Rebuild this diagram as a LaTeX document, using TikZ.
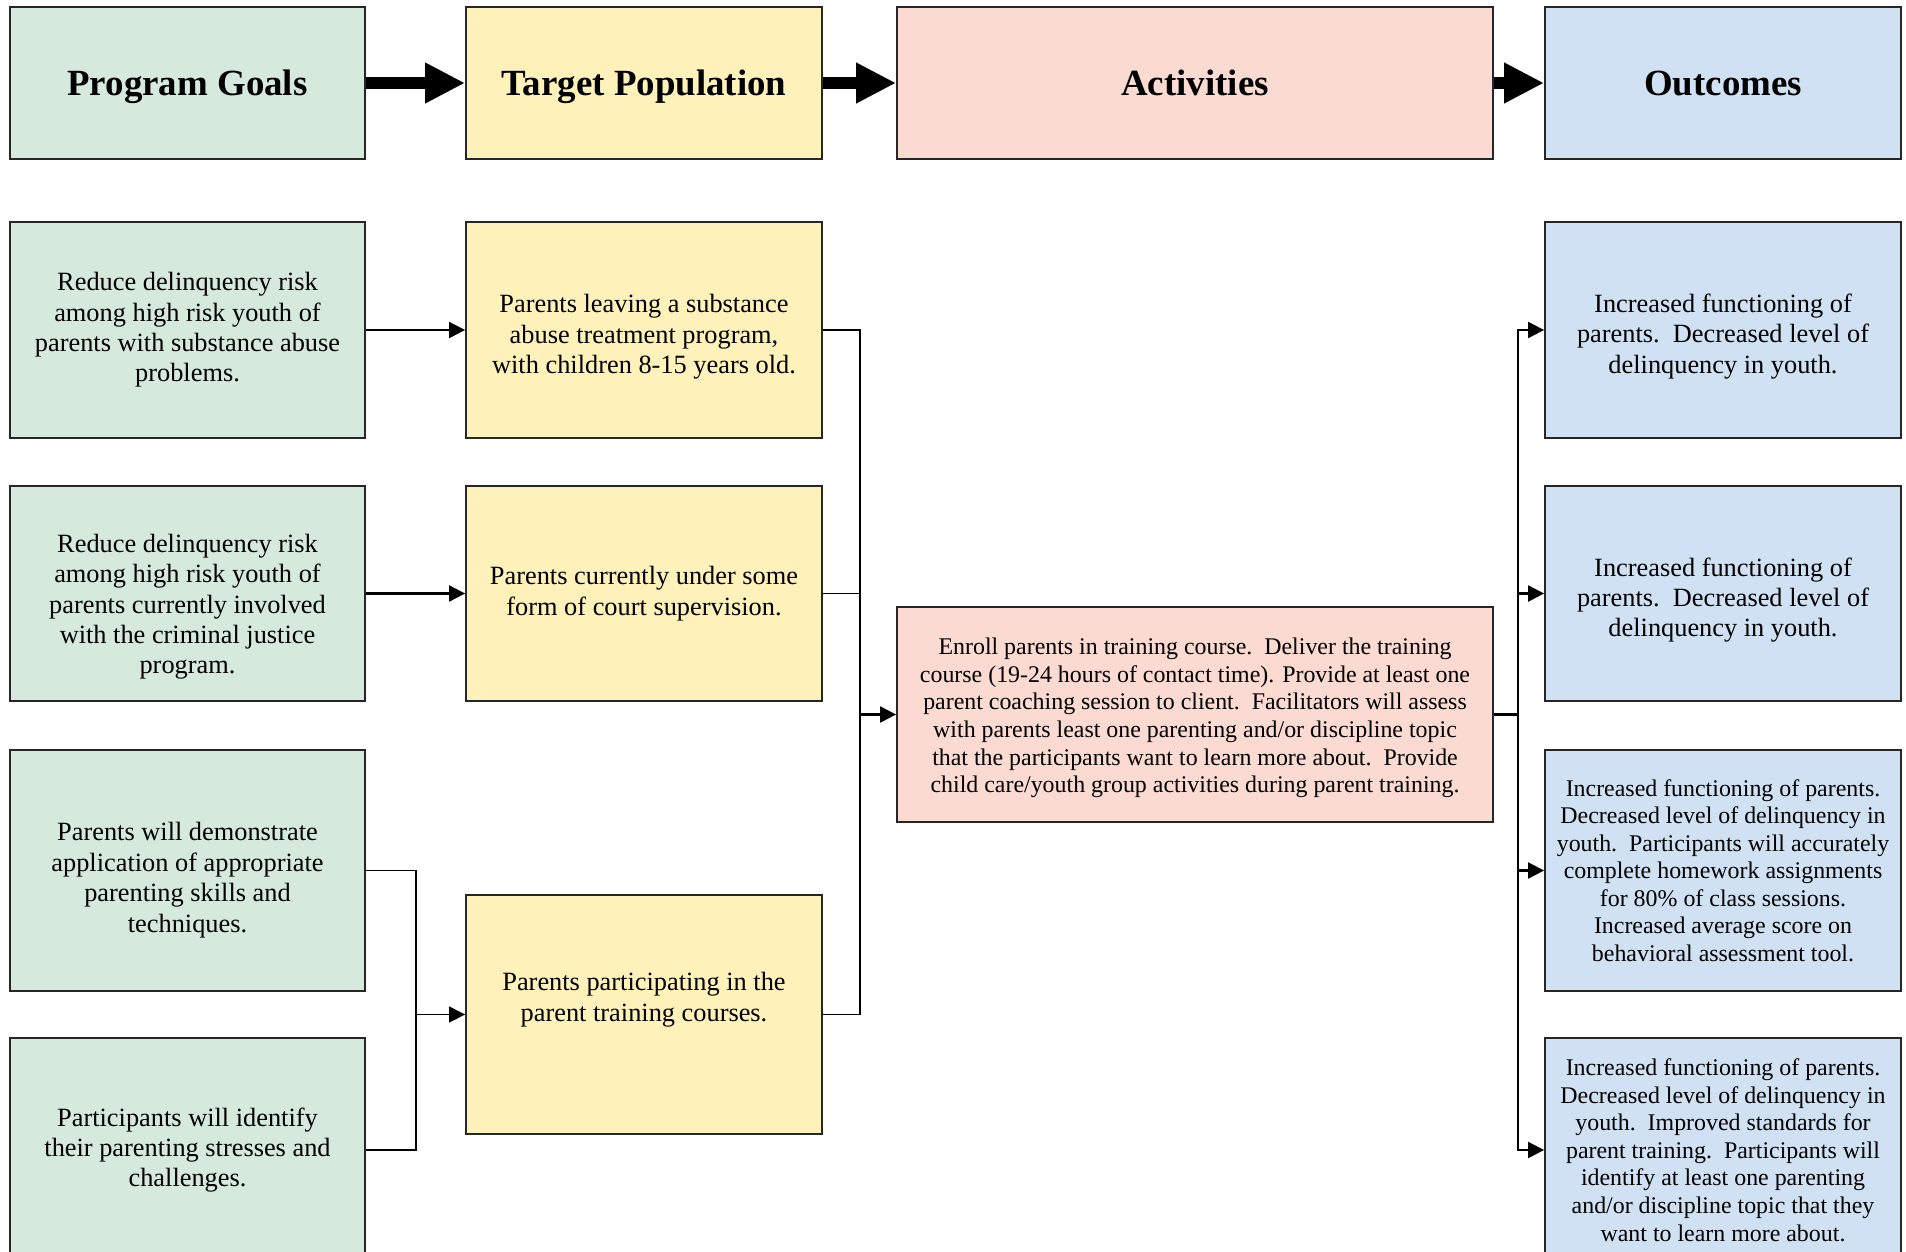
\documentclass[tikz,border=0pt]{standalone}
\usepackage{fontspec}
\setmainfont{Liberation Serif}
\usepackage{xcolor}
\usetikzlibrary{arrows.meta}

\definecolor{goalgreen}{HTML}{D5E9DD}
\definecolor{popyellow}{HTML}{FEF1BA}
\definecolor{actpink}{HTML}{FADAD1}
\definecolor{outblue}{HTML}{CFE1F2}

\begin{document}
\begin{tikzpicture}[
        x=0.02cm, y=-0.02cm,
        box/.style={draw=black!85, line width=1.1pt, align=center, inner sep=2pt, font=\fontsize{15}{17.3}\selectfont},
        smallbox/.style={box, font=\fontsize{13.6}{15.7}\selectfont},
        head/.style={box, minimum height=3.04cm, text depth=0pt, font=\fontsize{21}{25}\selectfont\bfseries},
        bigarrow/.style={line width=0.24cm, -{Triangle[length=0.8cm, width=0.76cm]}},
        conn/.style={line width=1.2pt},
        thinconn/.style={line width=0.8pt},
        arrow/.style={conn, -{Triangle[length=0.32cm, width=0.32cm]}},
        thinarrow/.style={thinconn, -{Triangle[length=0.32cm, width=0.32cm]}}
    ]
        \useasboundingbox (0,0) rectangle (1906,1251);

        % Header row
        \node[head, fill=goalgreen, minimum width=7.1cm] (hgoal) at (187.5,83) {Program Goals};
        \node[head, fill=popyellow, minimum width=7.12cm] (hpop) at (644,83) {Target Population};
        \node[head, fill=actpink, minimum width=11.92cm] (hact) at (1195,83) {Activities};
        \node[head, fill=outblue, minimum width=7.12cm] (hout) at (1723,83) {Outcomes};

        % Program goals
        \node[box, fill=goalgreen, minimum width=7.1cm, minimum height=4.32cm] (goal1) at (187.5,330) {Reduce delinquency risk\\among high risk youth of\\parents with substance abuse\\problems.};
        \node[box, fill=goalgreen, minimum width=7.1cm, minimum height=4.3cm] (goal2) at (187.5,593.5) {\rule{0pt}{25.5pt}Reduce delinquency risk\\among high risk youth of\\parents currently involved\\with the criminal justice\\program.};
        \node[box, fill=goalgreen, minimum width=7.1cm, minimum height=4.82cm] (goal3) at (187.5,870.5) {\rule{0pt}{21.3pt}Parents will demonstrate\\application of appropriate\\parenting skills and\\techniques.};
        \node[box, fill=goalgreen, minimum width=7.1cm, minimum height=4.48cm] (goal4) at (187.5,1150) {Participants will identify\\their parenting stresses and\\challenges.};

        % Target population
        \node[box, fill=popyellow, minimum width=7.12cm, minimum height=4.32cm] (pop1) at (644,330) {\rule{0pt}{18.3pt}Parents leaving a substance\\abuse treatment program,\\with children 8-15 years old.};
        \node[box, fill=popyellow, minimum width=7.12cm, minimum height=4.3cm] (pop2) at (644,593.5) {Parents currently under some\\form of court supervision.};
        \node[box, fill=popyellow, minimum width=7.12cm, minimum height=4.78cm] (pop3) at (644,1014.5) {Parents participating in the\\parent training courses.\rule[-19.9pt]{0pt}{19.9pt}};

        % Activities
        \node[smallbox, fill=actpink, minimum width=11.92cm, minimum height=4.3cm] (act) at (1195,714.5) {\rule{0pt}{13.4pt}Enroll parents in training course.\ \ Deliver the training\\course (19-24 hours of contact time). Provide at least one\\parent coaching session to client.\ \ Facilitators will assess\\with parents least one parenting and/or discipline topic\\that the participants want to learn more about.\ \ Provide\\child care/youth group activities during parent training.};

        % Outcomes
        \node[box, fill=outblue, minimum width=7.12cm, minimum height=4.32cm] (out1) at (1723,330) {\rule{0pt}{18pt}Increased functioning of\\parents.\ \ Decreased level of\\delinquency in youth.};
        \node[box, fill=outblue, minimum width=7.12cm, minimum height=4.3cm] (out2) at (1723,593.5) {\rule{0pt}{18pt}Increased functioning of\\parents.\ \ Decreased level of\\delinquency in youth.};
        \node[smallbox, fill=outblue, minimum width=7.12cm, minimum height=4.82cm] (out3) at (1723,870.5) {Increased functioning of parents.\\Decreased level of delinquency in\\youth.\ \ Participants will accurately\\complete homework assignments\\for 80\% of class sessions.\\Increased average score on\\behavioral assessment tool.};
        \node[smallbox, fill=outblue, minimum width=7.12cm, minimum height=4.48cm] (out4) at (1723,1150) {Increased functioning of parents.\\Decreased level of delinquency in\\youth.\ \ Improved standards for\\parent training.\ \ Participants will\\identify at least one parenting\\and/or discipline topic that they\\want to learn more about.};

        % Header arrows
        \draw[bigarrow] (hgoal) -- (hpop);
        \draw[bigarrow] (hpop) -- (hact);
        \draw[bigarrow] (hact) -- (hout);

        % Junction points
        \coordinate (gjoin) at (416,1014.5);
        \coordinate (pjoin) at (860,714.5);
        \coordinate (ojoin) at (1518,714.5);

        % Goals to population
        \draw[arrow] (goal1) -- (pop1);
        \draw[arrow] (goal2) -- (pop2);
        \draw[thinconn] (goal3.east) -| (gjoin);
        \draw[thinconn] (goal4.east) -| (gjoin);
        \draw[thinarrow] (gjoin) -- (pop3.west);

        % Population to activities
        \draw[conn] (pop1.east) -| (pjoin);
        \draw[thinconn] (pop2.east) -| (pjoin);
        \draw[thinconn] (pop3.east) -| (pjoin);
        \draw[arrow] (pjoin) -- (act.west);

        % Activities to outcomes
        \draw[conn] (act.east) -- (ojoin);
        \draw[arrow] (ojoin) |- (out1.west);
        \draw[arrow] (ojoin) |- (out2.west);
        \draw[arrow] (ojoin) |- (out3.west);
        \draw[arrow] (ojoin) |- (out4.west);
    \end{tikzpicture}
\end{document}
